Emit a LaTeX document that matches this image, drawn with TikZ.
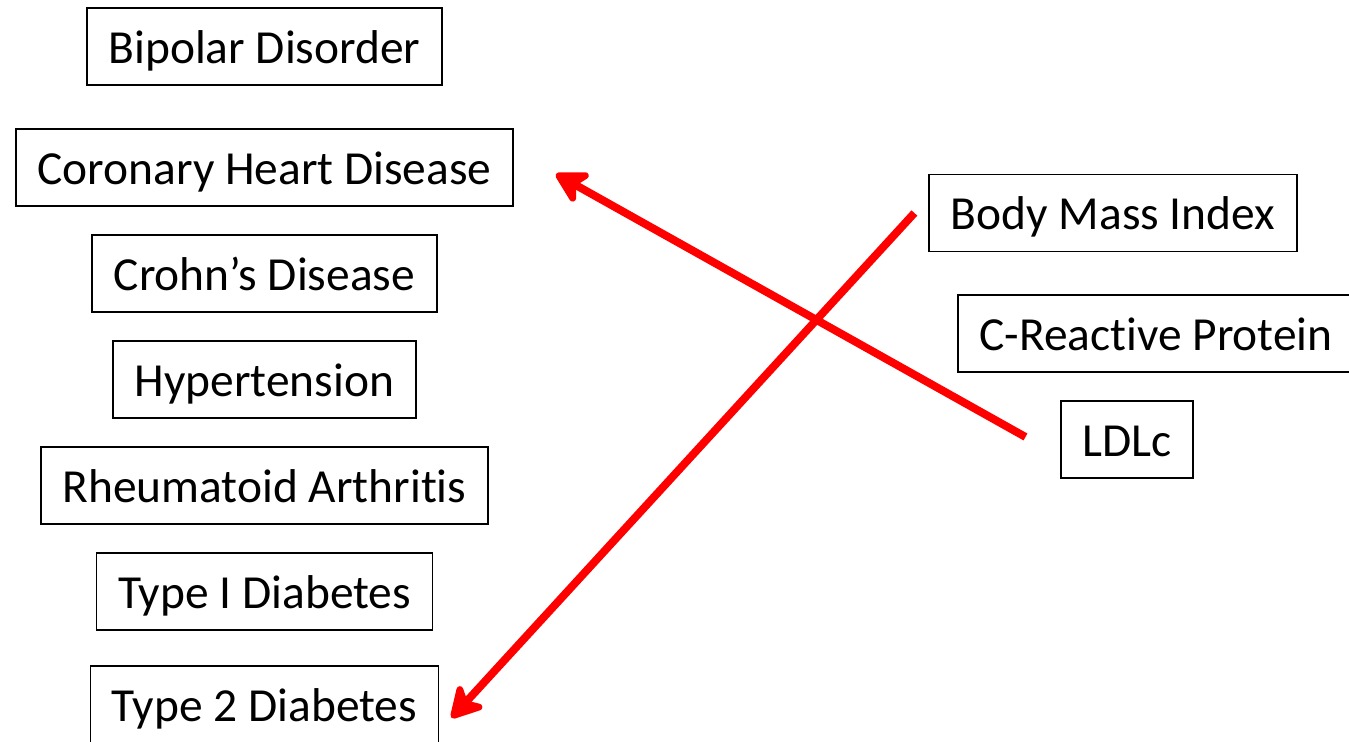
\documentclass[tikz,border=0pt]{standalone}
\usepackage{fontspec}
\setmainfont[Ligatures=NoCommon]{Carlito}
\usetikzlibrary{arrows.meta}
\begin{document}
\begin{tikzpicture}[x=0.02cm,y=-0.02cm,node distance=1cm,
		box/.style={draw,line width=1.1pt,inner xsep=4.3mm,minimum height=15.4mm,text height=24pt,text depth=4.9pt,font=\fontsize{27pt}{32pt}\selectfont},
		lnk/.style={draw=red,line width=4.5pt,-{Stealth[round,length=7.6mm,width=8.4mm,inset=2.2mm]}}]
		\useasboundingbox (0,0) rectangle (1349,741);
		% left column
		\node[box] (bd) at (264.5,46.5) {Bipolar Disorder};
		\node[box] (chd) [below of=bd,yshift=-14.2mm] {Coronary Heart Disease};
		\node[box] (cd) [below of=chd,yshift=-11.2mm] {Crohn’s Disease};
		\node[box] (ht) [below of=cd,yshift=-11.2mm] {Hypertension};
		\node[box] (ra) [below of=ht,yshift=-11.2mm] {Rheumatoid Arthritis};
		\node[box] (t1d) [below of=ra,yshift=-11.2mm] {Type I Diabetes};
		\node[box] (t2d) [below of=t1d,yshift=-12.6mm] {Type 2 Diabetes};
		% right column
		\node[box] (bmi) at (1113,213) {Body Mass Index};
		\node[box] (crp) [below of=bmi,yshift=-14.1mm,xshift=8.6mm] {C-Reactive Protein};
		\node[box] (ldl) [below of=crp,yshift=-11.2mm,xshift=-5.8mm] {LDLc};

		\coordinate (ldltail) at ([xshift=-6.9mm,yshift=0.5mm]ldl.west);
		\coordinate (chdtip) at ([xshift=8.4mm,yshift=-1.3mm]chd.east);
		\coordinate (bmitail) at ([xshift=-2.8mm]bmi.west);
		\coordinate (t2dtip) at ([xshift=2.4mm,yshift=-2.7mm]t2d.east);

		\draw[lnk] (ldltail) -- (chdtip);
		\draw[lnk] (bmitail) -- (t2dtip);
	\end{tikzpicture}
\end{document}
